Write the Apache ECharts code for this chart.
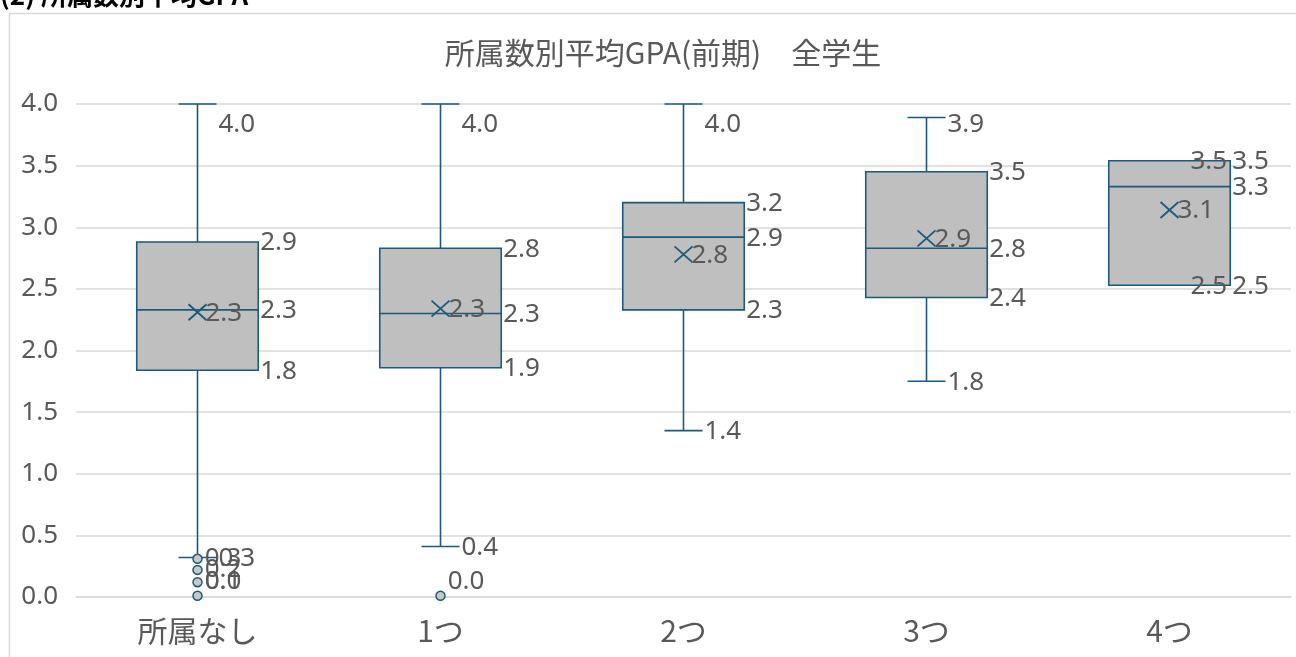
<!DOCTYPE html>
<html>
<head>
<meta charset="utf-8">
<script src="https://cdn.jsdelivr.net/npm/echarts@6/dist/echarts.min.js"></script>
<style>
html,body{margin:0;padding:0;background:#fff;}
#chart{width:1296px;height:657px;}
</style>
</head>
<body>
<div id="chart"></div>
<script>
const categories = ['所属なし', '1つ', '2つ', '3つ', '4つ'];
const whiskerMin = [0.32, 0.41, 1.35, 1.75, 2.53];
const q1 = [1.84, 1.86, 2.33, 2.43, 2.53];
const medians = [2.33, 2.30, 2.92, 2.83, 3.33];
const q3 = [2.88, 2.83, 3.20, 3.45, 3.54];
const whiskerMax = [4.0, 4.0, 4.0, 3.89, 3.54];
const means = [2.31, 2.34, 2.78, 2.91, 3.14];
const outlierCategory = [0, 0, 0, 0, 1];
const outlierValues = [0.31, 0.22, 0.12, 0.01, 0.01];
const yTicks = [0, 0.5, 1, 1.5, 2, 2.5, 3, 3.5, 4];

const STROKE = '#1d5a78';
const TEXT = '#595959';
const FONT = '"Noto Sans", "Noto Sans CJK JP", sans-serif';
const CJK = '"Noto Sans CJK JP", sans-serif';
const NUM_SIZE = 26;

const boxData = categories.map((c, i) => [i, whiskerMin[i], q1[i], medians[i], q3[i], whiskerMax[i], means[i]]);
const outlierData = outlierValues.map((v, i) => [outlierCategory[i], v]);

const chart = echarts.init(document.getElementById('chart'));
const PLOT_TOP = 104;
const PLOT_BOTTOM = 657 - 60;

function label(x, y, v) {
  if (y < PLOT_TOP + 20) y = PLOT_TOP + 20;
  return {
    type: 'text', x: x, y: y + 1, silent: true,
    style: { text: v.toFixed(1), fill: TEXT, fontSize: NUM_SIZE, fontFamily: FONT, align: 'left', verticalAlign: 'middle' }
  };
}

function renderItem(params, api) {
  const idx = api.value(0);
  const c = api.coord([idx, 0])[0];
  const band = api.size([1, 0])[0];
  const half = band * 0.25;
  const cap = 19;
  const yMin = api.coord([idx, api.value(1)])[1];
  const yQ1 = api.coord([idx, api.value(2)])[1];
  const yMed = api.coord([idx, api.value(3)])[1];
  const yQ3 = api.coord([idx, api.value(4)])[1];
  const yMax = api.coord([idx, api.value(5)])[1];
  const yMean = api.coord([idx, api.value(6)])[1];
  const ls = { stroke: STROKE, lineWidth: 1.6 };
  const children = [
    { type: 'line', shape: { x1: c, y1: yQ3, x2: c, y2: yMax }, style: ls },
    { type: 'line', shape: { x1: c, y1: yQ1, x2: c, y2: yMin }, style: ls },
    { type: 'line', shape: { x1: c - cap, y1: yMax, x2: c + cap, y2: yMax }, style: ls },
    { type: 'line', shape: { x1: c - cap, y1: yMin, x2: c + cap, y2: yMin }, style: ls },
    { type: 'rect', shape: { x: c - half, y: yQ3, width: half * 2, height: yQ1 - yQ3 }, style: { fill: '#bfbfbf', stroke: STROKE, lineWidth: 1.6 } },
    { type: 'line', shape: { x1: c - half, y1: yMed, x2: c + half, y2: yMed }, style: ls },
    { type: 'line', shape: { x1: c - 9, y1: yMean - 8, x2: c + 9, y2: yMean + 8 }, style: { stroke: STROKE, lineWidth: 1.8 } },
    { type: 'line', shape: { x1: c - 9, y1: yMean + 8, x2: c + 9, y2: yMean - 8 }, style: { stroke: STROKE, lineWidth: 1.8 } },
    label(c + cap + 2, yMax, api.value(5)),
    label(c + cap + 2, yMin, api.value(1)),
    label(c + half + 2, yQ3, api.value(4)),
    label(c + half + 2, yMed, api.value(3)),
    label(c + half + 2, yQ1, api.value(2)),
    label(c + 8, yMean, api.value(6))
  ];
  return { type: 'group', children: children };
}

const option = {
  animation: false,
  backgroundColor: '#ffffff',
  graphic: [
    { type: 'rect', left: 7, top: 11, shape: { width: 1310, height: 670 }, style: { fill: 'none', stroke: '#d9d9d9', lineWidth: 1.5 }, z: -10 },
    { type: 'text', left: 0, top: -18, style: { text: '(2) 所属数別平均GPA', fill: '#000', fontSize: 26, fontWeight: 'bold', fontFamily: CJK } }
  ],
  title: {
    text: '所属数別平均GPA(前期)　全学生',
    left: 658, top: 33, textAlign: 'center',
    textStyle: { color: TEXT, fontSize: 30, fontWeight: 'normal', fontFamily: CJK }
  },
  grid: { left: 76, right: 5, top: PLOT_TOP, bottom: 60, containLabel: false },
  xAxis: {
    type: 'category', data: categories,
    axisLine: { show: true, lineStyle: { color: '#d9d9d9', width: 1.5 } },
    axisTick: { show: false },
    axisLabel: { color: TEXT, fontSize: 30, margin: 19, fontFamily: CJK },
    splitLine: { show: false }
  },
  yAxis: {
    type: 'value', min: yTicks[0], max: yTicks[yTicks.length - 1], interval: 0.5,
    axisLine: { show: false }, axisTick: { show: false },
    axisLabel: { color: TEXT, fontSize: NUM_SIZE, margin: 18, fontFamily: FONT, formatter: v => v.toFixed(1) },
    splitLine: { lineStyle: { color: '#d9d9d9', width: 1.5 } }
  },
  series: [
    {
      type: 'custom', renderItem: renderItem, data: boxData,
      encode: { x: 0, y: [1, 2, 3, 4, 5, 6] }, clip: false, z: 2
    },
    {
      type: 'scatter', data: outlierData, symbol: 'circle', symbolSize: 9, z: 3,
      itemStyle: { color: '#c8c8c8', borderColor: STROKE, borderWidth: 1.5, opacity: 1 },
      label: {
        show: true, position: 'right', distance: 2, color: TEXT, fontSize: NUM_SIZE, fontFamily: FONT,
        formatter: p => p.value[1].toFixed(1)
      },
      labelLayout: function (params) {
        const r = params.labelRect;
        const over = (r.y + r.height) - (PLOT_BOTTOM - 2);
        return over > 0 ? { dy: -over } : {};
      }
    }
  ]
};
chart.setOption(option);
</script>
</body>
</html>
